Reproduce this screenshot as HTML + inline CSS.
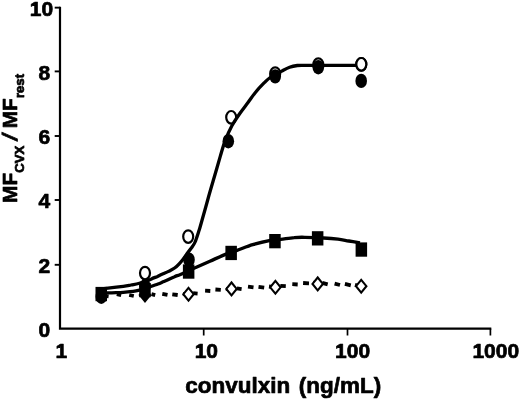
<!DOCTYPE html>
<html><head><meta charset="utf-8"><title>convulxin</title>
<style>html,body{margin:0;padding:0;background:#fff}svg{display:block}text.t{font-family:"Liberation Sans",sans-serif;font-weight:bold;fill:#000;stroke:#000;stroke-width:0.7px;stroke-linejoin:round}</style>
</head><body>
<svg width="520" height="399" viewBox="0 0 520 399">
<rect width="520" height="399" fill="#fff"/>
<path d="M60,6.7 V328.6 H491.3" fill="none" stroke="#000" stroke-width="2.2"/>
<path d="M54.7,264.8 H60" stroke="#000" stroke-width="1.9"/>
<path d="M54.7,200.0 H60" stroke="#000" stroke-width="1.9"/>
<path d="M54.7,136.0 H60" stroke="#000" stroke-width="1.9"/>
<path d="M54.7,71.4 H60" stroke="#000" stroke-width="1.9"/>
<path d="M203.7,328.6 V335.5" stroke="#000" stroke-width="1.7"/>
<path d="M347.5,328.6 V335.5" stroke="#000" stroke-width="1.7"/>
<path d="M490.4,328.6 V335.5" stroke="#000" stroke-width="1.7"/>
<path d="M60,7.65 H54.7" stroke="#000" stroke-width="1.9"/>
<path d="M101.0,295.3 L108.6,296.3 M116.8,294.2 L121.2,295.2 M129.2,295.0 L133.8,296.0 M140.0,294.9 L146.0,295.9 M151.5,294.2 L155.2,295.2 M162.3,293.9 L167.5,294.9 M172.3,294.3 L177.7,295.0 M183.0,293.9 L188.0,294.7 M193.1,293.2 L197.6,293.6 M205.1,290.7 L210.3,291.0 M215.4,289.5 L220.8,289.9 M226.0,288.8 L231.0,289.6 M236.9,288.4 L241.6,289.1 M248.0,286.7 L253.5,287.4 M258.5,286.8 L264.2,287.6 M269.0,286.5 L275.0,287.3 M280.3,285.8 L285.8,286.1 M292.3,284.2 L297.7,284.5 M303.1,283.0 L309.0,283.3 M313.0,282.5 L318.0,283.7 M322.3,282.9 L327.7,284.3 M334.6,283.6 L340.0,285.0 M344.9,283.9 L350.8,285.3 M355.0,284.9 L361.0,286.5" fill="none" stroke="#000" stroke-width="3.8"/>
<ellipse cx="145.0" cy="273.1" rx="5.0" ry="6.3" fill="#fff" stroke="#000" stroke-width="2.2"/>
<ellipse cx="188.2" cy="236.6" rx="5.0" ry="6.3" fill="#fff" stroke="#000" stroke-width="2.2"/>
<ellipse cx="231.2" cy="117.3" rx="5.0" ry="6.3" fill="#fff" stroke="#000" stroke-width="2.2"/>
<ellipse cx="275.2" cy="73.6" rx="5.0" ry="6.3" fill="#fff" stroke="#000" stroke-width="2.2"/>
<ellipse cx="318.3" cy="64.6" rx="5.0" ry="6.3" fill="#fff" stroke="#000" stroke-width="2.2"/>
<ellipse cx="361.3" cy="64.3" rx="5.0" ry="6.3" fill="#fff" stroke="#000" stroke-width="2.2"/>
<path d="M101.0,293.0 C102.1,293.0 105.0,292.9 107.5,292.9 C110.0,292.8 113.4,292.8 116.0,292.7 C118.6,292.6 121.0,292.5 123.3,292.3 C125.6,292.1 127.9,291.9 130.0,291.7 C132.1,291.5 133.8,291.3 136.0,290.9 C138.2,290.5 140.4,290.0 143.0,289.2 C145.6,288.4 149.0,287.1 151.5,286.2 C154.0,285.3 156.1,284.7 158.0,284.0 C159.9,283.3 161.3,282.6 163.1,281.8 C164.9,281.0 167.1,280.1 169.0,279.2 C170.9,278.3 172.8,277.4 174.6,276.7 C176.4,275.9 177.7,275.6 179.9,274.7 C182.1,273.8 185.2,272.3 188.0,271.0 C190.8,269.7 193.2,268.5 196.9,266.9 C200.6,265.3 205.2,263.3 209.9,261.2 C214.7,259.1 220.9,256.2 225.4,254.4 C229.9,252.6 232.4,252.0 237.0,250.4 C241.6,248.8 247.3,246.3 252.7,244.7 C258.1,243.1 264.6,241.5 269.3,240.6 C274.0,239.7 276.6,239.9 280.7,239.4 C284.8,238.9 290.2,237.9 294.2,237.6 C298.2,237.2 299.9,237.2 304.8,237.3 C309.7,237.4 318.0,237.7 323.5,238.0 C329.0,238.3 333.8,238.7 338.0,239.2 C342.2,239.7 345.1,240.4 348.8,241.0 C352.5,241.6 358.1,242.5 360.0,242.8" fill="none" stroke="#000" stroke-width="3.3" stroke-linecap="butt"/>
<path d="M101.0,288.9 C102.2,288.8 104.3,288.6 108.0,288.2 C111.7,287.8 119.5,286.9 123.3,286.4 C127.1,285.9 128.5,285.5 131.0,285.0 C133.5,284.5 136.2,284.1 138.5,283.5 C140.8,282.9 142.8,282.3 145.0,281.5 C147.2,280.7 149.4,279.8 151.5,278.9 C153.6,278.0 155.6,277.2 157.5,276.4 C159.4,275.5 161.3,274.6 163.1,273.8 C164.9,273.0 166.6,272.4 168.5,271.4 C170.4,270.4 172.8,269.3 174.6,268.0 C176.4,266.7 177.8,265.3 179.2,263.8 C180.6,262.3 181.7,261.0 183.1,259.2 C184.5,257.4 186.2,254.9 187.7,252.8 C189.2,250.7 191.0,248.6 192.3,246.7 C193.6,244.8 194.2,244.3 195.3,241.5 C196.5,238.7 197.8,234.4 199.2,230.0 C200.6,225.6 201.9,220.5 203.5,215.0 C205.1,209.5 206.8,203.2 208.5,197.0 C210.2,190.8 212.0,184.8 214.0,178.0 C216.0,171.2 218.6,162.0 220.4,155.9 C222.2,149.8 223.1,146.2 225.0,141.2 C226.9,136.2 229.4,130.4 231.9,125.8 C234.4,121.2 237.1,117.4 239.8,113.5 C242.5,109.6 245.4,106.0 248.0,102.5 C250.6,99.0 252.5,96.0 255.2,92.7 C257.9,89.4 261.8,85.2 264.3,82.7 C266.8,80.2 267.4,79.4 270.2,77.5 C273.0,75.6 278.0,73.1 281.2,71.4 C284.4,69.7 286.9,68.2 289.6,67.2 C292.3,66.2 294.7,65.8 297.3,65.5 C299.9,65.2 299.6,65.3 305.0,65.3 C310.4,65.3 321.5,65.3 330.0,65.3 C338.5,65.3 351.7,65.3 356.0,65.3" fill="none" stroke="#000" stroke-width="3.3"/>
<path d="M145.0,288.6 l5.2,6.4 l-5.2,6.4 l-5.2,-6.4 z" fill="#000" stroke="#000" stroke-width="2.1"/>
<path d="M188.5,287.8 l5.2,6.4 l-5.2,6.4 l-5.2,-6.4 z" fill="#fff" stroke="#000" stroke-width="2.1"/>
<path d="M231.5,282.5 l5.2,6.4 l-5.2,6.4 l-5.2,-6.4 z" fill="#fff" stroke="#000" stroke-width="2.1"/>
<path d="M275.4,280.9 l5.2,6.4 l-5.2,6.4 l-5.2,-6.4 z" fill="#fff" stroke="#000" stroke-width="2.1"/>
<path d="M317.7,277.5 l5.2,6.4 l-5.2,6.4 l-5.2,-6.4 z" fill="#fff" stroke="#000" stroke-width="2.1"/>
<path d="M361.2,279.8 l5.2,6.4 l-5.2,6.4 l-5.2,-6.4 z" fill="#fff" stroke="#000" stroke-width="2.1"/>
<rect x="95.5" y="286.9" width="11.5" height="14.3" fill="#000"/>
<rect x="139.2" y="282.9" width="11.5" height="14.3" fill="#000"/>
<rect x="182.9" y="264.4" width="11.5" height="14.3" fill="#000"/>
<rect x="225.4" y="245.8" width="11.5" height="14.3" fill="#000"/>
<rect x="269.2" y="234.0" width="11.5" height="14.3" fill="#000"/>
<rect x="311.9" y="231.2" width="11.5" height="14.3" fill="#000"/>
<rect x="355.6" y="242.4" width="11.5" height="14.3" fill="#000"/>
<ellipse cx="101.3" cy="296.7" rx="5.8" ry="7.2" fill="#000"/>
<ellipse cx="145.0" cy="286.3" rx="5.8" ry="7.2" fill="#000"/>
<ellipse cx="189.0" cy="259.7" rx="5.8" ry="7.2" fill="#000"/>
<ellipse cx="228.3" cy="141.2" rx="5.8" ry="7.2" fill="#000"/>
<ellipse cx="275.2" cy="76.4" rx="5.8" ry="7.2" fill="#000"/>
<ellipse cx="318.3" cy="67.2" rx="5.8" ry="7.2" fill="#000"/>
<ellipse cx="361.2" cy="80.9" rx="5.8" ry="7.2" fill="#000"/>
<ellipse cx="361.3" cy="64.3" rx="5.0" ry="6.3" fill="#fff" stroke="#000" stroke-width="2.2"/>
<text transform="translate(50.10,336.90) scale(1.000,1)" text-anchor="end" font-size="21.00" class="t">0</text>
<text transform="translate(50.10,273.10) scale(1.000,1)" text-anchor="end" font-size="21.00" class="t">2</text>
<text transform="translate(50.10,208.30) scale(1.000,1)" text-anchor="end" font-size="21.00" class="t">4</text>
<text transform="translate(50.10,144.30) scale(1.000,1)" text-anchor="end" font-size="21.00" class="t">6</text>
<text transform="translate(50.10,79.70) scale(1.000,1)" text-anchor="end" font-size="21.00" class="t">8</text>
<text transform="translate(53.20,16.40) scale(1.000,1)" text-anchor="end" font-size="21.00" class="t">10</text>
<text transform="translate(61.30,358.30) scale(1.000,1)" text-anchor="middle" font-size="21.00" class="t">1</text>
<text transform="translate(206.30,358.30) scale(1.000,1)" text-anchor="middle" font-size="21.00" class="t">10</text>
<text transform="translate(352.60,358.30) scale(1.000,1)" text-anchor="middle" font-size="21.00" class="t">100</text>
<text transform="translate(495.80,358.30) scale(1.000,1)" text-anchor="middle" font-size="21.00" class="t">1000</text>
<text word-spacing="2.4" transform="translate(185.30,392.70) scale(0.995,1)" text-anchor="start" font-size="22.60" class="t">convulxin (ng/mL)</text>
<text transform="translate(16.60,203.00) rotate(-90) scale(1.000,1)" text-anchor="start" font-size="20.90" class="t">MF<tspan font-size="13.2" dy="7.3">CVX</tspan><tspan dy="-7.3" dx="17.43">MF</tspan><tspan font-size="13.2" dy="7.3">rest</tspan></text>
<text transform="translate(16.60,138.55) rotate(-90) skewX(-14)" text-anchor="middle" font-size="20.90" class="t">/</text>
</svg>
</body></html>
